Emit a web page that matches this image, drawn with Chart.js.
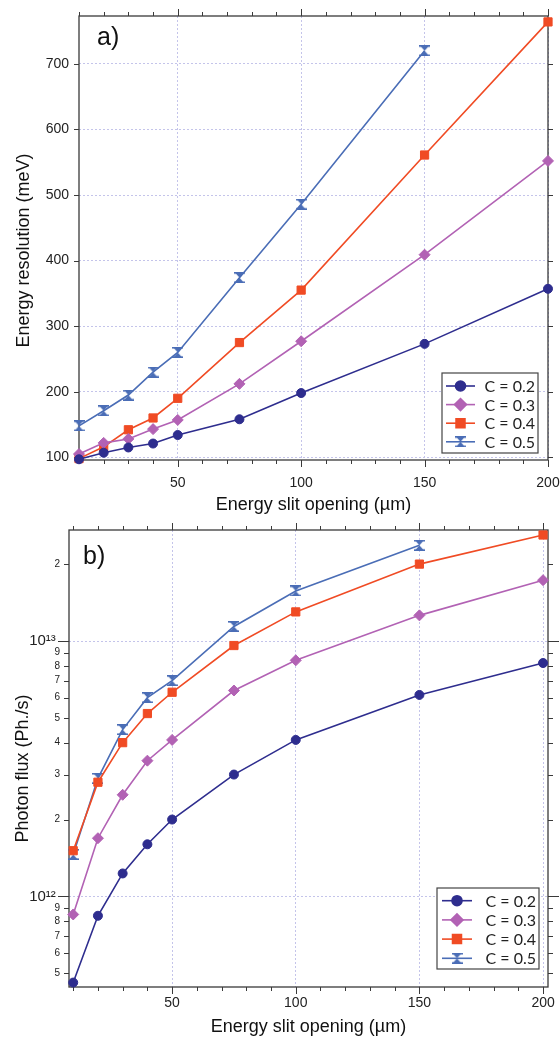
<!DOCTYPE html>
<html>
<head>
<meta charset="utf-8">
<script src="https://cdn.jsdelivr.net/npm/chart.js@4.4.1/dist/chart.umd.min.js"></script>
<style>
    body { margin: 0; background: #fff; }
    .panel { position: relative; width: 560px; }
    #panelA { height: 520px; }
    #panelB { height: 518px; }
</style>
</head>
<body>
<div class="panel" id="panelA"><canvas id="resolutionChart"></canvas></div>
<div class="panel" id="panelB"><canvas id="fluxChart"></canvas></div>
<script>
// Data
const slit = [10, 20, 30, 40, 50, 75, 100, 150, 200];
const seriesLabels = ['C = 0.2', 'C = 0.3', 'C = 0.4', 'C = 0.5'];

// a) energy resolution (meV)
const res02 = [97, 107, 115, 121, 134, 158, 198, 273, 357];
const res03 = [105, 122, 128, 143, 157, 212, 277, 409, 552];
const res04 = [98, 116, 142, 160, 190, 275, 355, 561, 764];
const res05 = [148, 171, 195, 230, 260, 374, 486, 720];

// b) photon flux (Ph./s)
const flux02 = [4.6e11, 8.4e11, 1.23e12, 1.6e12, 2.0e12, 3.0e12, 4.1e12, 6.15e12, 8.2e12];
const flux03 = [8.5e11, 1.69e12, 2.5e12, 3.4e12, 4.1e12, 6.4e12, 8.4e12, 1.26e13, 1.73e13];
const flux04 = [1.51e12, 2.8e12, 4.0e12, 5.2e12, 6.3e12, 9.6e12, 1.3e13, 2.0e13, 2.6e13];
const flux05 = [1.46e12, 2.9e12, 4.5e12, 6.0e12, 7.0e12, 1.14e13, 1.57e13, 2.37e13];

// Ticks
const slitTicks = [10, 20, 30, 40, 50, 60, 70, 80, 90, 100, 110, 120, 130, 140, 150, 160, 170, 180, 190, 200];
const slitLabels = [50, 100, 150, 200];
const resTicks = [100, 200, 300, 400, 500, 600, 700];
const fluxTicks = [5e11, 6e11, 7e11, 8e11, 9e11, 1e12, 2e12, 3e12, 4e12, 5e12, 6e12, 7e12, 8e12, 9e12, 1e13, 2e13];

const colors = ['#2e2d8e', '#b262b4', '#f04b24', '#4a6db6'];
const gridColor = '#c4c4ea';
const axisColor = '#3a3a3a';

Chart.defaults.font.family = '"Liberation Sans", Arial, sans-serif';
Chart.defaults.color = '#222';

function hourglass(color) {
    const c = document.createElement('canvas');
    c.width = 11; c.height = 11;
    const g = c.getContext('2d');
    g.fillStyle = color;
    g.fillRect(0, 0, 11, 1.6);
    g.fillRect(0, 9.4, 11, 1.6);
    g.beginPath();
    g.moveTo(1.5, 1); g.lineTo(9.5, 1); g.lineTo(5.5, 5.5);
    g.lineTo(9.5, 10); g.lineTo(1.5, 10); g.lineTo(5.5, 5.5);
    g.closePath();
    g.fill();
    return c;
}

const styles = ['circle', 'rectRot', 'rect', hourglass(colors[3])];
const radii = [4.5, 5.5, 5.8, 5];

function series(i, values) {
    return {
        label: seriesLabels[i],
        data: values.map((v, k) => ({ x: slit[k], y: v })),
        borderColor: colors[i],
        backgroundColor: colors[i],
        pointStyle: styles[i],
        pointRadius: radii[i],
        pointBorderWidth: 1,
        borderWidth: 1.6,
        tension: 0,
        clip: false
    };
}

const isPow10 = v => {
    const e = Math.log10(v);
    return Math.abs(e - Math.round(e)) < 1e-6;
};
const supDigits = { '0': '⁰', '1': '¹', '2': '²', '3': '³', '4': '⁴', '5': '⁵', '6': '⁶', '7': '⁷', '8': '⁸', '9': '⁹' };

// keep the plot box where it is in the figure, labels may hang over
function noPad(s) {
    s.paddingLeft = 0; s.paddingRight = 0; s.paddingTop = 0; s.paddingBottom = 0;
}

// frame + tick marks on all four sides
function framePlugin(isMajorY, majorLenY, minorLenY) {
    return {
        id: 'frame',
        beforeDatasetsDraw(chart) {
            const { ctx, chartArea: a, scales: { x, y } } = chart;
            ctx.save();
            ctx.strokeStyle = axisColor;
            ctx.lineWidth = 1.3;
            ctx.strokeRect(a.left, a.top, a.right - a.left, a.bottom - a.top);
            ctx.lineWidth = 1;
            ctx.beginPath();
            x.ticks.forEach(t => {
                const px = Math.round(x.getPixelForValue(t.value)) + 0.5;
                const len = slitLabels.includes(t.value) ? 7 : 4;
                ctx.moveTo(px, a.bottom); ctx.lineTo(px, a.bottom + len);
                ctx.moveTo(px, a.top); ctx.lineTo(px, a.top - len);
            });
            y.ticks.forEach(t => {
                const py = Math.round(y.getPixelForValue(t.value)) + 0.5;
                const len = isMajorY(t.value) ? majorLenY : minorLenY;
                ctx.moveTo(a.left, py); ctx.lineTo(a.left - len, py);
                ctx.moveTo(a.right, py); ctx.lineTo(a.right + len, py);
            });
            ctx.stroke();
            ctx.restore();
        }
    };
}

// boxed legend inside the plot, plus panel letter
function legendPlugin(o) {
    return {
        id: 'boxLegend',
        afterDatasetsDraw(chart) {
            const { ctx, chartArea: a } = chart;
            const x0 = a.right - o.right - o.w;
            const y0 = a.bottom - o.bottom - o.h;
            ctx.save();
            ctx.fillStyle = '#fff';
            ctx.fillRect(x0, y0, o.w, o.h);
            ctx.strokeStyle = '#444';
            ctx.lineWidth = 1.2;
            ctx.strokeRect(x0, y0, o.w, o.h);
            chart.data.datasets.forEach((ds, i) => {
                const cy = y0 + o.first + i * o.gap;
                ctx.strokeStyle = ds.borderColor;
                ctx.fillStyle = ds.backgroundColor;
                ctx.lineWidth = 1.6;
                ctx.beginPath();
                ctx.moveTo(x0 + o.lineFrom, cy);
                ctx.lineTo(x0 + o.lineTo, cy);
                ctx.stroke();
                Chart.helpers.drawPoint(ctx, {
                    pointStyle: ds.pointStyle, radius: ds.pointRadius + 0.5, rotation: 0, borderWidth: 1
                }, x0 + (o.lineFrom + o.lineTo) / 2, cy);
                ctx.fillStyle = '#222';
                ctx.font = '16px Lato, "Liberation Sans", sans-serif';
                ctx.textAlign = 'right';
                ctx.textBaseline = 'middle';
                ctx.fillText(ds.label, x0 + o.w - 3, cy + 1);
            });
            ctx.font = '25px "Liberation Sans", Arial, sans-serif';
            ctx.fillStyle = '#111';
            ctx.textAlign = 'left';
            ctx.textBaseline = 'middle';
            ctx.fillText(o.letter, o.letterX, o.letterY);
            ctx.restore();
        }
    };
}

function xAxis(min, max, height, pad, titlePad) {
    return {
        type: 'linear',
        min: min,
        max: max,
        afterBuildTicks: s => { s.ticks = slitTicks.map(v => ({ value: v })); },
        afterFit: s => { s.height = height; noPad(s); },
        grid: {
            drawTicks: false,
            color: c => (c.tick && slitLabels.includes(c.tick.value) ? gridColor : 'rgba(0,0,0,0)'),
            lineWidth: 1
        },
        // in v4 border.dash is what dashes the grid lines
        border: { display: false, dash: [2, 2] },
        ticks: {
            autoSkip: false,
            maxRotation: 0,
            padding: pad,
            font: { size: 14 },
            color: '#222',
            callback: v => (slitLabels.includes(v) ? String(v) : '')
        },
        title: {
            display: true,
            text: 'Energy slit opening (µm)',
            font: { size: 18 },
            color: '#111',
            padding: { top: 0, bottom: titlePad }
        }
    };
}

// a) energy resolution
new Chart(document.getElementById('resolutionChart'), {
    type: 'line',
    data: {
        datasets: [series(0, res02), series(1, res03), series(2, res04), series(3, res05)]
    },
    options: {
        responsive: true,
        maintainAspectRatio: false,
        animation: false,
        events: [],
        layout: { padding: { left: 0, right: 12, top: 16, bottom: 0 } },
        plugins: { legend: { display: false }, tooltip: { enabled: false } },
        scales: {
            x: xAxis(10, 200, 60, 15, 4),
            y: {
                type: 'linear',
                min: 95.9,
                max: 773,
                afterBuildTicks: s => { s.ticks = resTicks.map(v => ({ value: v })); },
                afterFit: s => { s.width = 79; noPad(s); },
                grid: { drawTicks: false, color: gridColor },
                border: { display: false, dash: [2, 2] },
                ticks: { padding: 10, font: { size: 14 }, color: '#222' },
                title: {
                    display: true,
                    // trailing spaces push the centred title down to where the figure has it
                    text: 'Energy resolution (meV)\u00a0\u00a0\u00a0\u00a0\u00a0',
                    font: { size: 18 },
                    color: '#111',
                    padding: { top: 13, bottom: 0 }
                }
            }
        }
    },
    plugins: [
        framePlugin(() => true, 5, 5),
        legendPlugin({ w: 96, h: 80, right: 10, bottom: 7, first: 13, gap: 18.6, lineFrom: 4, lineTo: 33, letter: 'a)', letterX: 97, letterY: 38 })
    ]
});

// b) photon flux
new Chart(document.getElementById('fluxChart'), {
    type: 'line',
    data: {
        datasets: [series(0, flux02), series(1, flux03), series(2, flux04), series(3, flux05)]
    },
    options: {
        responsive: true,
        maintainAspectRatio: false,
        animation: false,
        events: [],
        layout: { padding: { left: 0, right: 12, top: 10, bottom: 0 } },
        plugins: { legend: { display: false }, tooltip: { enabled: false } },
        scales: {
            x: xAxis(8.3, 202, 51, 8, 0),
            y: {
                type: 'logarithmic',
                min: 4.42e11,
                max: 2.72e13,
                afterBuildTicks: s => { s.ticks = fluxTicks.map(v => ({ value: v })); },
                afterFit: s => { s.width = 69; noPad(s); },
                grid: {
                    drawTicks: false,
                    color: c => (c.tick && isPow10(c.tick.value) ? gridColor : 'rgba(0,0,0,0)')
                },
                border: { display: false, dash: [2, 2] },
                ticks: {
                    padding: 9,
                    color: '#222',
                    font: c => (c.tick && isPow10(c.tick.value) ? { size: 15 } : { size: 10 }),
                    callback: v => {
                        const e = Math.round(Math.log10(v));
                        if (isPow10(v)) {
                            return '10' + String(e).split('').map(d => supDigits[d]).join('') + ' ';
                        }
                        return String(Math.round(v / Math.pow(10, Math.floor(Math.log10(v) + 1e-9))));
                    }
                },
                title: {
                    display: true,
                    text: 'Photon flux (Ph./s)\u00a0\u00a0\u00a0\u00a0',
                    font: { size: 18 },
                    color: '#111',
                    padding: { top: 12, bottom: 0 }
                }
            }
        }
    },
    plugins: [
        framePlugin(isPow10, 11, 5),
        legendPlugin({ w: 102, h: 81, right: 9, bottom: 18, first: 12.7, gap: 19.2, lineFrom: 5, lineTo: 35, letter: 'b)', letterX: 83, letterY: 37 })
    ]
});
</script>
</body>
</html>
